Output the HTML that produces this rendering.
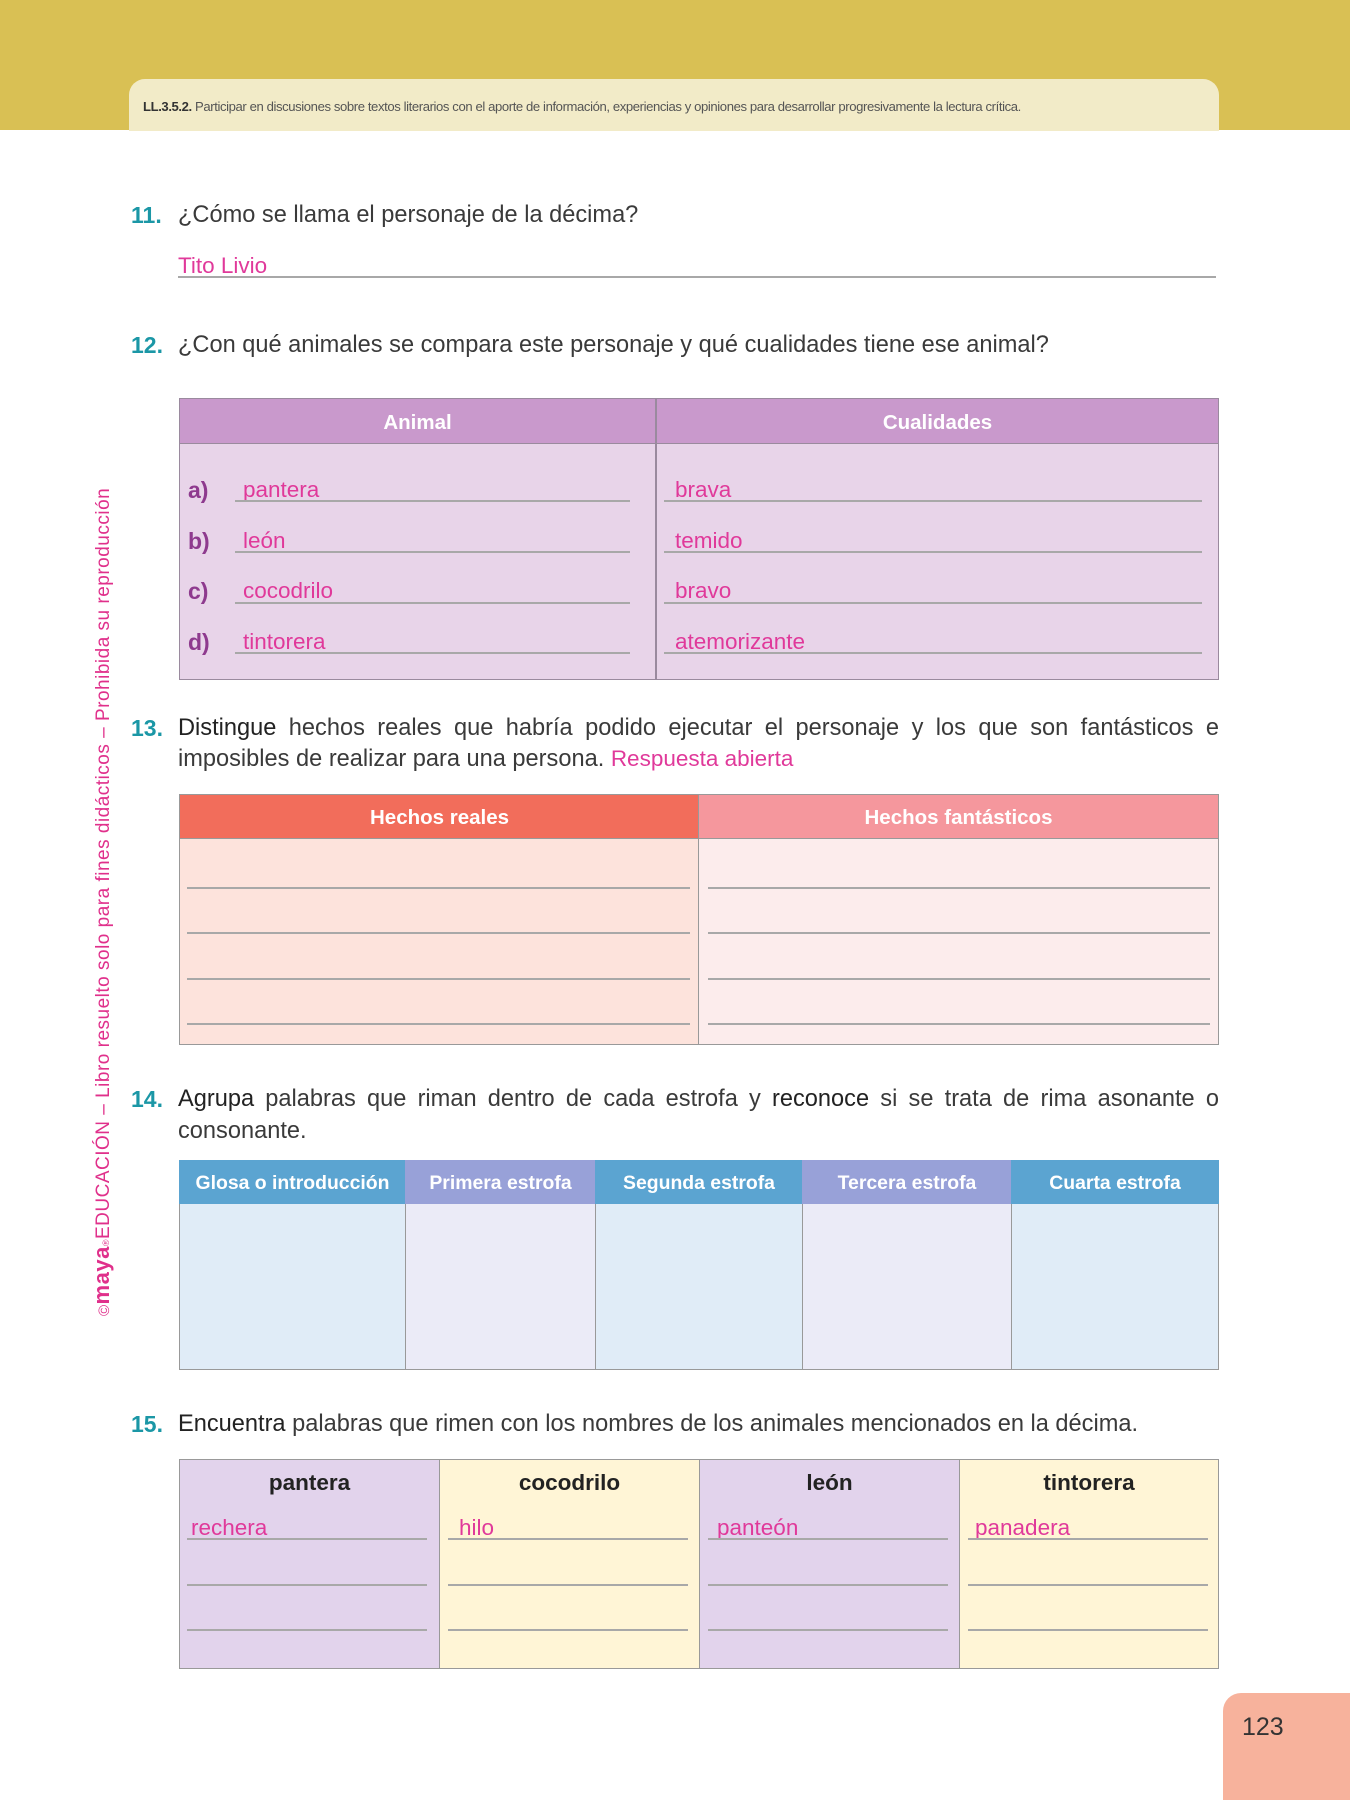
<!DOCTYPE html>
<html><head><meta charset="utf-8"><style>
*{margin:0;padding:0;box-sizing:border-box}
body{width:1350px;height:1800px;position:relative;background:#fff;font-family:"Liberation Sans",sans-serif;color:#333;overflow:hidden}
.a{position:absolute;white-space:nowrap}
.num{color:#1b97a6;font-weight:bold;font-size:23px}
.q{font-size:23.6px;color:#3a3a3a}
.pk{color:#e0399a;font-size:22.5px}
.ln{position:absolute;height:1.5px;background:#a8a8a8}
.th{position:absolute;color:#fff;font-weight:bold;font-size:20.5px;text-align:center;display:flex;align-items:center;justify-content:center;padding-top:3px}
.lab{position:absolute;color:#8e3a8e;font-weight:bold;font-size:23px}
</style></head><body>
<div class="a" style="left:0;top:0;width:1350px;height:130px;background:#d9c054"></div>
<div class="a" style="left:129px;top:79px;width:1090px;height:52px;background:#f2ebc8;border-radius:16px 16px 0 0"></div>
<div class="a" style="left:143px;top:99px;font-size:13.1px;color:#555;letter-spacing:-0.4px"><b style="color:#333">LL.3.5.2.</b> Participar en discusiones sobre textos literarios con el aporte de información, experiencias y opiniones para desarrollar progresivamente la lectura crítica.</div>

<div class="a" style="left:89px;top:1316px;transform-origin:0 0;transform:rotate(-90deg);width:830px;font-size:19px;color:#e0308b;letter-spacing:0.5px"><span style="font-size:15px">©</span><b style="font-size:22px">maya</b><span style="font-size:9px">®</span>EDUCACIÓN – Libro resuelto solo para fines didácticos – Prohibida su reproducción</div>

<div class="a num" style="left:131px;top:202px">11.</div>
<div class="a q" style="left:178px;top:202px">¿Cómo se llama el personaje de la décima?</div>
<div class="a pk" style="left:178px;top:253px">Tito Livio</div>
<div class="ln" style="left:178px;top:276px;width:1038px"></div>

<div class="a num" style="left:131px;top:332px">12.</div>
<div class="a q" style="left:178px;top:332px">¿Con qué animales se compara este personaje y qué cualidades tiene ese animal?</div>

<div class="a" style="left:179px;top:398px;width:1040px;height:282px;background:#e8d4e9;border:1.5px solid #9a8a9e"></div>
<div class="a" style="left:179px;top:398px;width:1040px;height:46px;background:#c999cc;border:1.5px solid #9a8a9e"></div>
<div class="a" style="left:655px;top:398px;width:1.5px;height:282px;background:#9a8a9e"></div>
<div class="th" style="left:179px;top:398px;width:477px;height:46px">Animal</div>
<div class="th" style="left:656px;top:398px;width:563px;height:46px">Cualidades</div>
<div class="lab" style="left:188px;top:477px">a)</div><div class="lab" style="left:188px;top:528px">b)</div><div class="lab" style="left:188px;top:578px">c)</div><div class="lab" style="left:188px;top:629px">d)</div>
<div class="a pk" style="left:243px;top:477px">pantera</div><div class="a pk" style="left:675px;top:477px">brava</div>
<div class="a pk" style="left:243px;top:528px">león</div><div class="a pk" style="left:675px;top:528px">temido</div>
<div class="a pk" style="left:243px;top:578px">cocodrilo</div><div class="a pk" style="left:675px;top:578px">bravo</div>
<div class="a pk" style="left:243px;top:629px">tintorera</div><div class="a pk" style="left:675px;top:629px">atemorizante</div>
<div class="ln" style="left:235px;top:500px;width:395px"></div><div class="ln" style="left:664px;top:500px;width:538px"></div>
<div class="ln" style="left:235px;top:551px;width:395px"></div><div class="ln" style="left:664px;top:551px;width:538px"></div>
<div class="ln" style="left:235px;top:602px;width:395px"></div><div class="ln" style="left:664px;top:602px;width:538px"></div>
<div class="ln" style="left:235px;top:652px;width:395px"></div><div class="ln" style="left:664px;top:652px;width:538px"></div>

<div class="a num" style="left:131px;top:715px">13.</div>
<div class="a q" style="left:178px;top:715px;width:1041px;text-align:justify;text-align-last:justify;white-space:normal"><span style="color:#222">Distingue</span> hechos reales que habría podido ejecutar el personaje y los que son fantásticos e</div>
<div class="a q" style="left:178px;top:746px">imposibles de realizar para una persona. <span class="pk">Respuesta abierta</span></div>

<div class="a" style="left:179px;top:794px;width:521px;height:251px;background:#fde3dc;border:1.5px solid #999"></div>
<div class="a" style="left:698px;top:794px;width:521px;height:251px;background:#fcecec;border:1.5px solid #999"></div>
<div class="th" style="left:179px;top:794px;width:521px;height:45px;background:#f26d5b;border:1.5px solid #999">Hechos reales</div>
<div class="th" style="left:698px;top:794px;width:521px;height:45px;background:#f5979d;border:1.5px solid #999">Hechos fantásticos</div>
<div class="ln" style="left:187px;top:887px;width:503px"></div><div class="ln" style="left:708px;top:887px;width:502px"></div>
<div class="ln" style="left:187px;top:932px;width:503px"></div><div class="ln" style="left:708px;top:932px;width:502px"></div>
<div class="ln" style="left:187px;top:978px;width:503px"></div><div class="ln" style="left:708px;top:978px;width:502px"></div>
<div class="ln" style="left:187px;top:1023px;width:503px"></div><div class="ln" style="left:708px;top:1023px;width:502px"></div>

<div class="a num" style="left:131px;top:1086px">14.</div>
<div class="a q" style="left:178px;top:1086px;width:1041px;text-align:justify;text-align-last:justify;white-space:normal"><span style="color:#222">Agrupa</span> palabras que riman dentro de cada estrofa y <span style="color:#222">reconoce</span> si se trata de rima asonante o</div>
<div class="a q" style="left:178px;top:1118px">consonante.</div>

<div class="a" style="left:179px;top:1160px;width:227px;height:210px;background:#e0ecf7;border:1.5px solid #999"></div>
<div class="a" style="left:405px;top:1160px;width:191px;height:210px;background:#ebebf7;border:1.5px solid #999"></div>
<div class="a" style="left:595px;top:1160px;width:208px;height:210px;background:#e0ecf7;border:1.5px solid #999"></div>
<div class="a" style="left:802px;top:1160px;width:210px;height:210px;background:#ebebf7;border:1.5px solid #999"></div>
<div class="a" style="left:1011px;top:1160px;width:208px;height:210px;background:#e0ecf7;border:1.5px solid #999"></div>
<div class="th" style="left:179px;top:1160px;width:227px;height:44px;background:#5ba4d1;font-size:19.4px">Glosa o introducción</div>
<div class="th" style="left:405px;top:1160px;width:191px;height:44px;background:#98a1d8;font-size:19.4px">Primera estrofa</div>
<div class="th" style="left:595px;top:1160px;width:208px;height:44px;background:#5ba4d1;font-size:19.4px">Segunda estrofa</div>
<div class="th" style="left:802px;top:1160px;width:210px;height:44px;background:#98a1d8;font-size:19.4px">Tercera estrofa</div>
<div class="th" style="left:1011px;top:1160px;width:208px;height:44px;background:#5ba4d1;font-size:19.4px">Cuarta estrofa</div>

<div class="a num" style="left:131px;top:1411px">15.</div>
<div class="a q" style="left:178px;top:1411px"><span style="color:#222">Encuentra</span> palabras que rimen con los nombres de los animales mencionados en la décima.</div>

<div class="a" style="left:179px;top:1459px;width:261px;height:210px;background:#e2d3ec;border:1.5px solid #999"></div>
<div class="a" style="left:439px;top:1459px;width:261px;height:210px;background:#fff5d6;border:1.5px solid #999"></div>
<div class="a" style="left:699px;top:1459px;width:261px;height:210px;background:#e2d3ec;border:1.5px solid #999"></div>
<div class="a" style="left:959px;top:1459px;width:260px;height:210px;background:#fff5d6;border:1.5px solid #999"></div>
<div class="a" style="left:179px;top:1470px;width:261px;text-align:center;font-weight:bold;font-size:22.5px;color:#222">pantera</div>
<div class="a" style="left:439px;top:1470px;width:261px;text-align:center;font-weight:bold;font-size:22.5px;color:#222">cocodrilo</div>
<div class="a" style="left:699px;top:1470px;width:261px;text-align:center;font-weight:bold;font-size:22.5px;color:#222">león</div>
<div class="a" style="left:959px;top:1470px;width:260px;text-align:center;font-weight:bold;font-size:22.5px;color:#222">tintorera</div>
<div class="a pk" style="left:191px;top:1515px">rechera</div>
<div class="a pk" style="left:459px;top:1515px">hilo</div>
<div class="a pk" style="left:717px;top:1515px">panteón</div>
<div class="a pk" style="left:975px;top:1515px">panadera</div>
<div class="ln" style="left:187px;top:1538px;width:240px"></div><div class="ln" style="left:448px;top:1538px;width:240px"></div><div class="ln" style="left:708px;top:1538px;width:240px"></div><div class="ln" style="left:968px;top:1538px;width:240px"></div>
<div class="ln" style="left:187px;top:1584px;width:240px"></div><div class="ln" style="left:448px;top:1584px;width:240px"></div><div class="ln" style="left:708px;top:1584px;width:240px"></div><div class="ln" style="left:968px;top:1584px;width:240px"></div>
<div class="ln" style="left:187px;top:1629px;width:240px"></div><div class="ln" style="left:448px;top:1629px;width:240px"></div><div class="ln" style="left:708px;top:1629px;width:240px"></div><div class="ln" style="left:968px;top:1629px;width:240px"></div>

<div class="a" style="left:1223px;top:1693px;width:127px;height:107px;background:#f7b29c;border-radius:18px 0 0 0"></div>
<div class="a" style="left:1242px;top:1713px;font-size:25px;color:#333">123</div>
</body></html>
